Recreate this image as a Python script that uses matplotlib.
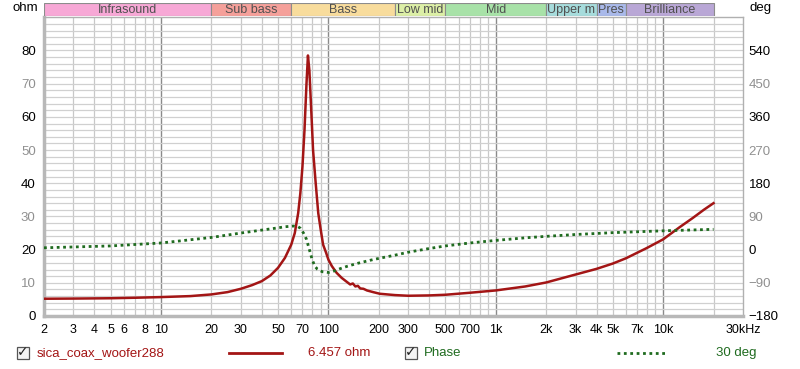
import matplotlib
matplotlib.use("Agg")
import matplotlib.pyplot as plt
from matplotlib.ticker import FixedLocator, FuncFormatter
from matplotlib.patches import Rectangle
import numpy as np

plt.rcParams['font.family'] = ['Liberation Sans', 'DejaVu Sans']

# ---- data ----
imp_freq = [2, 3, 5, 7, 10, 15, 20, 25, 30, 35, 40, 45, 50, 55, 60, 63, 66, 68, 70, 72, 74,
            75.5, 77, 79, 81, 84, 87, 90, 93, 97, 100, 105, 112, 120, 128, 135, 140, 145,
            150, 155, 162, 170, 185, 203, 250, 300, 400, 500, 700, 1000, 1500, 2000, 3000,
            4000, 5000, 6000, 8000, 10000, 12500, 15000, 17500, 20000]
imp_ohm = [5.2, 5.25, 5.35, 5.5, 5.7, 6.0, 6.5, 7.2, 8.2, 9.3, 10.5, 12.2, 14.5, 17.5, 21.5,
           25, 31, 37, 45, 56, 70, 78.5, 74, 62, 50, 40, 31, 26, 21.5, 19, 17, 15, 13, 11.5,
           10.4, 9.5, 9.8, 8.9, 9.1, 8.3, 8.2, 7.7, 7.2, 6.7, 6.3, 6.1, 6.2, 6.4, 7.0, 7.7,
           8.9, 10.1, 12.5, 14.2, 15.8, 17.4, 20.5, 23.1, 26.7, 29.5, 32, 34]

ph_freq = [2, 5, 10, 20, 30, 40, 50, 55, 62, 66, 68, 71, 74, 77, 80, 83, 86, 92, 100, 110,
           117, 130, 150, 185, 250, 300, 400, 500, 700, 1000, 1500, 2000, 3000, 5000, 10000, 20000]
ph_deg = [5, 10, 18, 33, 45, 53, 59, 62, 64, 62, 58, 45, 28, 0, -27, -45, -53, -60, -62, -57,
          -52, -45, -37, -27, -15, -7, 3, 10, 18, 25, 32, 36, 41, 46, 51, 55]

bands = ["Infrasound", "Sub bass", "Bass", "Low mid", "Mid", "Upper m", "Pres", "Brilliance"]
band_edges = [2, 20, 60, 250, 500, 2000, 4000, 6000, 20000]
band_colors = ["#f7a8d6", "#f5a09a", "#f8dc9c", "#dcefa6", "#a8e2a8", "#a6dcdc", "#a9b9ea", "#b9a7d6"]

x_labels = {2: "2", 3: "3", 4: "4", 5: "5", 6: "6", 8: "8", 10: "10", 20: "20", 30: "30",
            50: "50", 70: "70", 100: "100", 200: "200", 300: "300", 500: "500", 700: "700",
            1000: "1k", 2000: "2k", 3000: "3k", 4000: "4k", 5000: "5k", 7000: "7k",
            10000: "10k", 30000: "30kHz"}
ohm_ticks = [0, 10, 20, 30, 40, 50, 60, 70, 80]
deg_ticks = [-180, -90, 0, 90, 180, 270, 360, 450, 540]

RED = "#a31515"
GREEN = "#1f6b1f"

W, H = 800, 369
fig = plt.figure(figsize=(W / 100, H / 100), dpi=100)
fig.patch.set_facecolor("white")

x0, x1, ytop, ybot = 44, 743, 17.3, 316
ax = fig.add_axes([x0 / W, 1 - ybot / H, (x1 - x0) / W, (ybot - ytop) / H])
ax.set_xscale("log")
ax.set_xlim(2, 30000)
ax.set_ylim(0, 90)

# grid
decades = [10, 100, 1000, 10000]
minors = [m * d for d in [1, 10, 100, 1000, 10000] for m in range(2, 10) if 2 <= m * d <= 30000 and m * d != 30000]
for f in minors:
    ax.axvline(f, color="#c8c8c8", lw=0.9, zorder=0)
for f in decades:
    ax.axvline(f, color="#8a8a8a", lw=1.0, zorder=0)
for yv in np.arange(2, 90, 2):
    ax.axhline(yv, color="#d0d0d0", lw=0.9, zorder=0)

ax.xaxis.set_major_locator(FixedLocator(list(x_labels.keys())))
ax.xaxis.set_major_formatter(FuncFormatter(lambda v, p: x_labels.get(int(round(v)), "")))
ax.xaxis.set_minor_locator(FixedLocator([]))
ax.tick_params(axis="x", length=0, pad=6, labelsize=9)
ax.set_yticks(ohm_ticks)
ax.tick_params(axis="y", length=0, pad=6, labelsize=9.5)
for lbl, v in zip(ax.get_yticklabels(), ohm_ticks):
    lbl.set_color("black" if v % 20 == 0 else "#909090")

for s in ["top", "right"]:
    ax.spines[s].set_color("#b0b0b0")
    ax.spines[s].set_linewidth(1.0)
for s in ["left", "bottom"]:
    ax.spines[s].set_color("#b8b8b8")
    ax.spines[s].set_linewidth(2.5)

ax.plot(imp_freq, imp_ohm, color=RED, lw=1.8, zorder=3)

ax2 = ax.twinx()
ax2.set_ylim(-180, 630)
ax2.set_yticks(deg_ticks)
ax2.tick_params(axis="y", length=0, pad=4, labelsize=9.5)
for lbl, v in zip(ax2.get_yticklabels(), deg_ticks):
    lbl.set_color("black" if v % 180 == 0 else "#909090")
for s in ax2.spines.values():
    s.set_visible(False)
ax2.plot(ph_freq, ph_deg, color=GREEN, lw=2.0, ls=(0, (1, 1.3)), zorder=3)

# band strip
axb = fig.add_axes([x0 / W, 1 - 16 / H, (x1 - x0) / W, 13 / H])
axb.set_xscale("log")
axb.set_xlim(2, 30000)
axb.set_ylim(0, 1)
axb.axis("off")
for name, a, b, c in zip(bands, band_edges[:-1], band_edges[1:], band_colors):
    axb.add_patch(Rectangle((a, 0), b - a, 1, facecolor=c, edgecolor="#8c8c8c", lw=0.8))
    axb.text(np.sqrt(a * b), 0.45, name, ha="center", va="center", fontsize=9, color="#505050")

fig.text(38 / W, 1 - 8 / H, "ohm", ha="right", va="center", fontsize=9.5)
fig.text(750 / W, 1 - 8 / H, "deg", ha="left", va="center", fontsize=9.5)

# legend row
ly = 1 - 353 / H
def checkbox(xp):
    fig.patches.append(Rectangle(((xp - 6) / W, 1 - 359 / H), 12 / W, 12 / H,
                                 transform=fig.transFigure, facecolor="#f4f4f4",
                                 edgecolor="#555555", lw=0.9))
    fig.text(xp / W, 1 - 352.5 / H, "\u2713", ha="center", va="center", fontsize=10,
             color="#222222", family="DejaVu Sans", fontweight="bold")

checkbox(23)
fig.text(37 / W, ly, "sica_coax_woofer288", ha="left", va="center", fontsize=9.5, color=RED)
fig.add_artist(plt.Line2D([229 / W, 282 / W], [ly, ly], color=RED, lw=2, transform=fig.transFigure))
fig.text(308 / W, ly, "6.457 ohm", ha="left", va="center", fontsize=9.5, color=RED)
checkbox(411)
fig.text(424 / W, ly, "Phase", ha="left", va="center", fontsize=9.5, color=GREEN)
fig.add_artist(plt.Line2D([617 / W, 667 / W], [ly, ly], color=GREEN, lw=2, ls=(0, (1, 1.3)),
                          transform=fig.transFigure))
fig.text(716 / W, ly, "30 deg", ha="left", va="center", fontsize=9.5, color=GREEN)

fig.savefig("out.png", dpi=100)
